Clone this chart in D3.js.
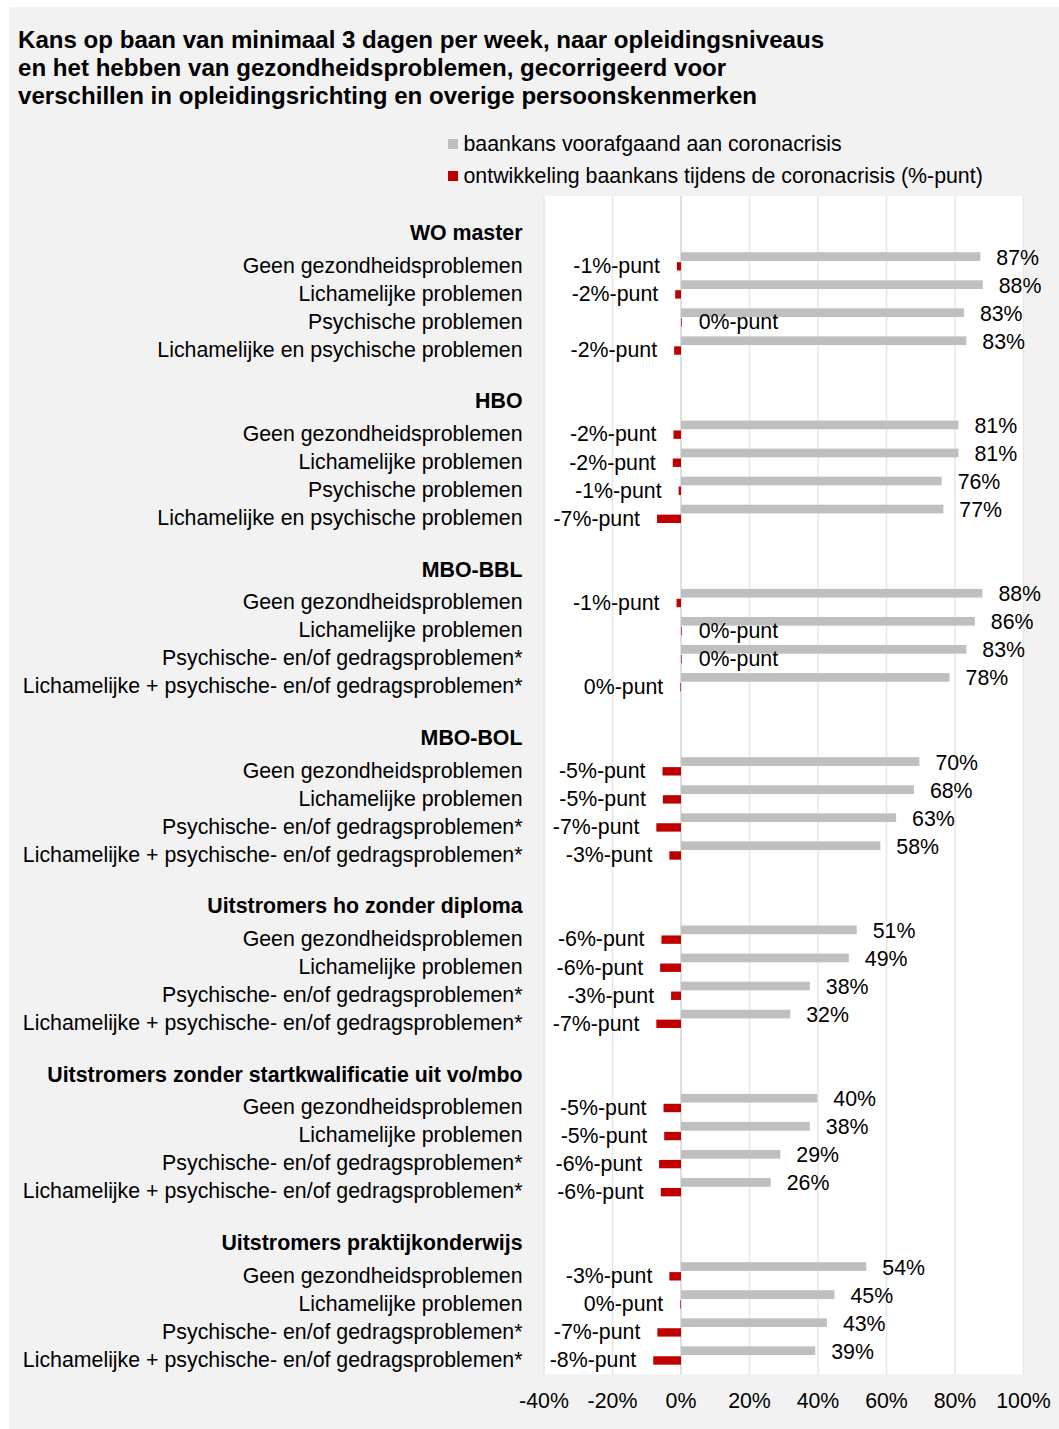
<!DOCTYPE html>
<html>
<head>
<meta charset="utf-8">
<script src="https://cdnjs.cloudflare.com/ajax/libs/d3/7.8.5/d3.min.js"></script>
<style>
  body { margin: 0; background: #fff; }
  svg { display: block; font-family: "Liberation Sans", Arial, sans-serif; }
</style>
</head>
<body>
<svg id="chart"></svg>
<script>
var width = 1059,
    height = 1429,
    fs = 21.33;

var titleLines = [
  "Kans op baan van minimaal 3 dagen per week, naar opleidingsniveaus",
  "en het hebben van gezondheidsproblemen, gecorrigeerd voor",
  "verschillen in opleidingsrichting en overige persoonskenmerken"
];

var legendLabels = [
  "baankans voorafgaand aan coronacrisis",
  "ontwikkeling baankans tijdens de coronacrisis (%-punt)"
];

var groups = [
  "WO master",
  "HBO",
  "MBO-BBL",
  "MBO-BOL",
  "Uitstromers ho zonder diploma",
  "Uitstromers zonder startkwalificatie uit vo/mbo",
  "Uitstromers praktijkonderwijs"
];

var subcatsHo = [
  "Geen gezondheidsproblemen",
  "Lichamelijke problemen",
  "Psychische problemen",
  "Lichamelijke en psychische problemen"
];

var subcatsOther = [
  "Geen gezondheidsproblemen",
  "Lichamelijke problemen",
  "Psychische- en/of gedragsproblemen*",
  "Lichamelijke + psychische- en/of gedragsproblemen*"
];

// baankans voorafgaand aan coronacrisis (%), 4 per group
var baankans = [
  87.4, 88.1, 82.6, 83.3,
  81.0, 81.0, 76.1, 76.6,
  88.0, 85.8, 83.3, 78.4,
  69.6, 68.0, 62.8, 58.2,
  51.3, 49.0, 37.6, 31.9,
  39.8, 37.6, 29.0, 26.2,
  54.1, 44.8, 42.6, 39.2
];

// ontwikkeling tijdens coronacrisis (%-punt)
var ontwikkeling = [
  -1.2, -1.7, 0.2, -2.0,
  -2.2, -2.4, -0.7, -7.0,
  -1.3, 0.2, 0.2, -0.2,
  -5.4, -5.3, -7.2, -3.4,
  -5.7, -6.1, -2.9, -7.2,
  -5.1, -4.9, -6.4, -5.9,
  -3.4, -0.2, -6.9, -8.1
];

var ticks = [-40, -20, 0, 20, 40, 60, 80, 100];

var svg = d3.select("#chart").attr("width", width).attr("height", height);

svg.append("rect")
    .attr("x", 9).attr("y", 7)
    .attr("width", width - 9).attr("height", height - 7)
    .attr("fill", "#f2f2f2");

// title
svg.append("g").selectAll("text")
    .data(titleLines)
    .enter().append("text")
    .attr("x", 18)
    .attr("y", function(d, i) { return 47.5 + i * 28.3; })
    .attr("font-size", 24.1)
    .attr("font-weight", "bold")
    .attr("fill", "#000")
    .text(function(d) { return d; });

// legend
var legendColors = ["#bfbfbf", "#c00000"];
var legend = svg.append("g").selectAll("g")
    .data(legendLabels)
    .enter().append("g")
    .attr("transform", function(d, i) { return "translate(448," + (139 + i * 32) + ")"; });
legend.append("rect")
    .attr("width", 10).attr("height", 10)
    .attr("fill", function(d, i) { return legendColors[i]; });
legend.append("text")
    .attr("x", 15.5).attr("y", 12)
    .attr("font-size", fs)
    .text(function(d) { return d; });

// rows: each group = 6 slots (blank, header, 4 rows)
var rows = [];
groups.forEach(function(g, gi) {
  var subs = gi < 2 ? subcatsHo : subcatsOther;
  subs.forEach(function(s, si) {
    var k = gi * 4 + si;
    rows.push({ slot: gi * 6 + 2 + si, label: s, base: baankans[k], delta: ontwikkeling[k] });
  });
});

var x = d3.scaleLinear().domain([-40, 100]).range([544, 1023.5]);
var y = d3.scaleBand().domain(d3.range(groups.length * 6)).range([196, 1374.3]).padding(0);
var bw = y.bandwidth();
function cy(slot) { return y(slot) + bw / 2; }

// plot area
svg.append("rect")
    .attr("x", x(-40)).attr("y", 196)
    .attr("width", x(100) - x(-40)).attr("height", 1374.3 - 196)
    .attr("fill", "#fff");

svg.append("g").selectAll("line")
    .data(ticks)
    .enter().append("line")
    .attr("x1", function(d) { return x(d); })
    .attr("x2", function(d) { return x(d); })
    .attr("y1", 196).attr("y2", 1374.3)
    .attr("stroke", function(d) { return d === 0 ? "#d4d4d4" : "#e6e6e6"; })
    .attr("stroke-width", 1.5);

// x axis labels
svg.append("g").selectAll("text")
    .data(ticks)
    .enter().append("text")
    .attr("x", function(d) { return x(d); })
    .attr("y", 1408)
    .attr("text-anchor", "middle")
    .attr("font-size", fs)
    .text(function(d) { return d + "%"; });

// group headers
svg.append("g").selectAll("text")
    .data(groups)
    .enter().append("text")
    .attr("x", 522.5)
    .attr("y", function(d, i) { return cy(i * 6 + 1) + 2; })
    .attr("text-anchor", "end")
    .attr("font-size", fs)
    .attr("font-weight", "bold")
    .text(function(d) { return d; });

// category labels
svg.append("g").selectAll("text")
    .data(rows)
    .enter().append("text")
    .attr("x", 522.5)
    .attr("y", function(d) { return cy(d.slot) + 6.5; })
    .attr("text-anchor", "end")
    .attr("font-size", fs)
    .text(function(d) { return d.label; });

// gray bars
svg.append("g").selectAll("rect")
    .data(rows)
    .enter().append("rect")
    .attr("x", x(0))
    .attr("y", function(d) { return cy(d.slot) - 13.9; })
    .attr("width", function(d) { return x(d.base) - x(0); })
    .attr("height", 8.7)
    .attr("fill", "#bfbfbf");

// red bars
svg.append("g").selectAll("rect")
    .data(rows)
    .enter().append("rect")
    .attr("x", function(d) { return x(Math.min(0, d.delta)); })
    .attr("y", function(d) { return cy(d.slot) - 4; })
    .attr("width", function(d) { return Math.abs(x(d.delta) - x(0)); })
    .attr("height", 8.4)
    .attr("fill", "#c00000");

// value labels
svg.append("g").selectAll("text")
    .data(rows)
    .enter().append("text")
    .attr("x", function(d) { return x(d.base) + 16; })
    .attr("y", function(d) { return cy(d.slot) - 1.5; })
    .attr("font-size", fs)
    .text(function(d) { return Math.round(d.base) + "%"; });

svg.append("g").selectAll("text")
    .data(rows)
    .enter().append("text")
    .attr("x", function(d) { return d.delta < 0 ? x(d.delta) - 17 : x(d.delta) + 17; })
    .attr("y", function(d) { return cy(d.slot) + 7; })
    .attr("text-anchor", function(d) { return d.delta < 0 ? "end" : "start"; })
    .attr("font-size", fs)
    .text(function(d) { return (Math.round(d.delta) || 0) + "%-punt"; });
</script>
</body>
</html>
